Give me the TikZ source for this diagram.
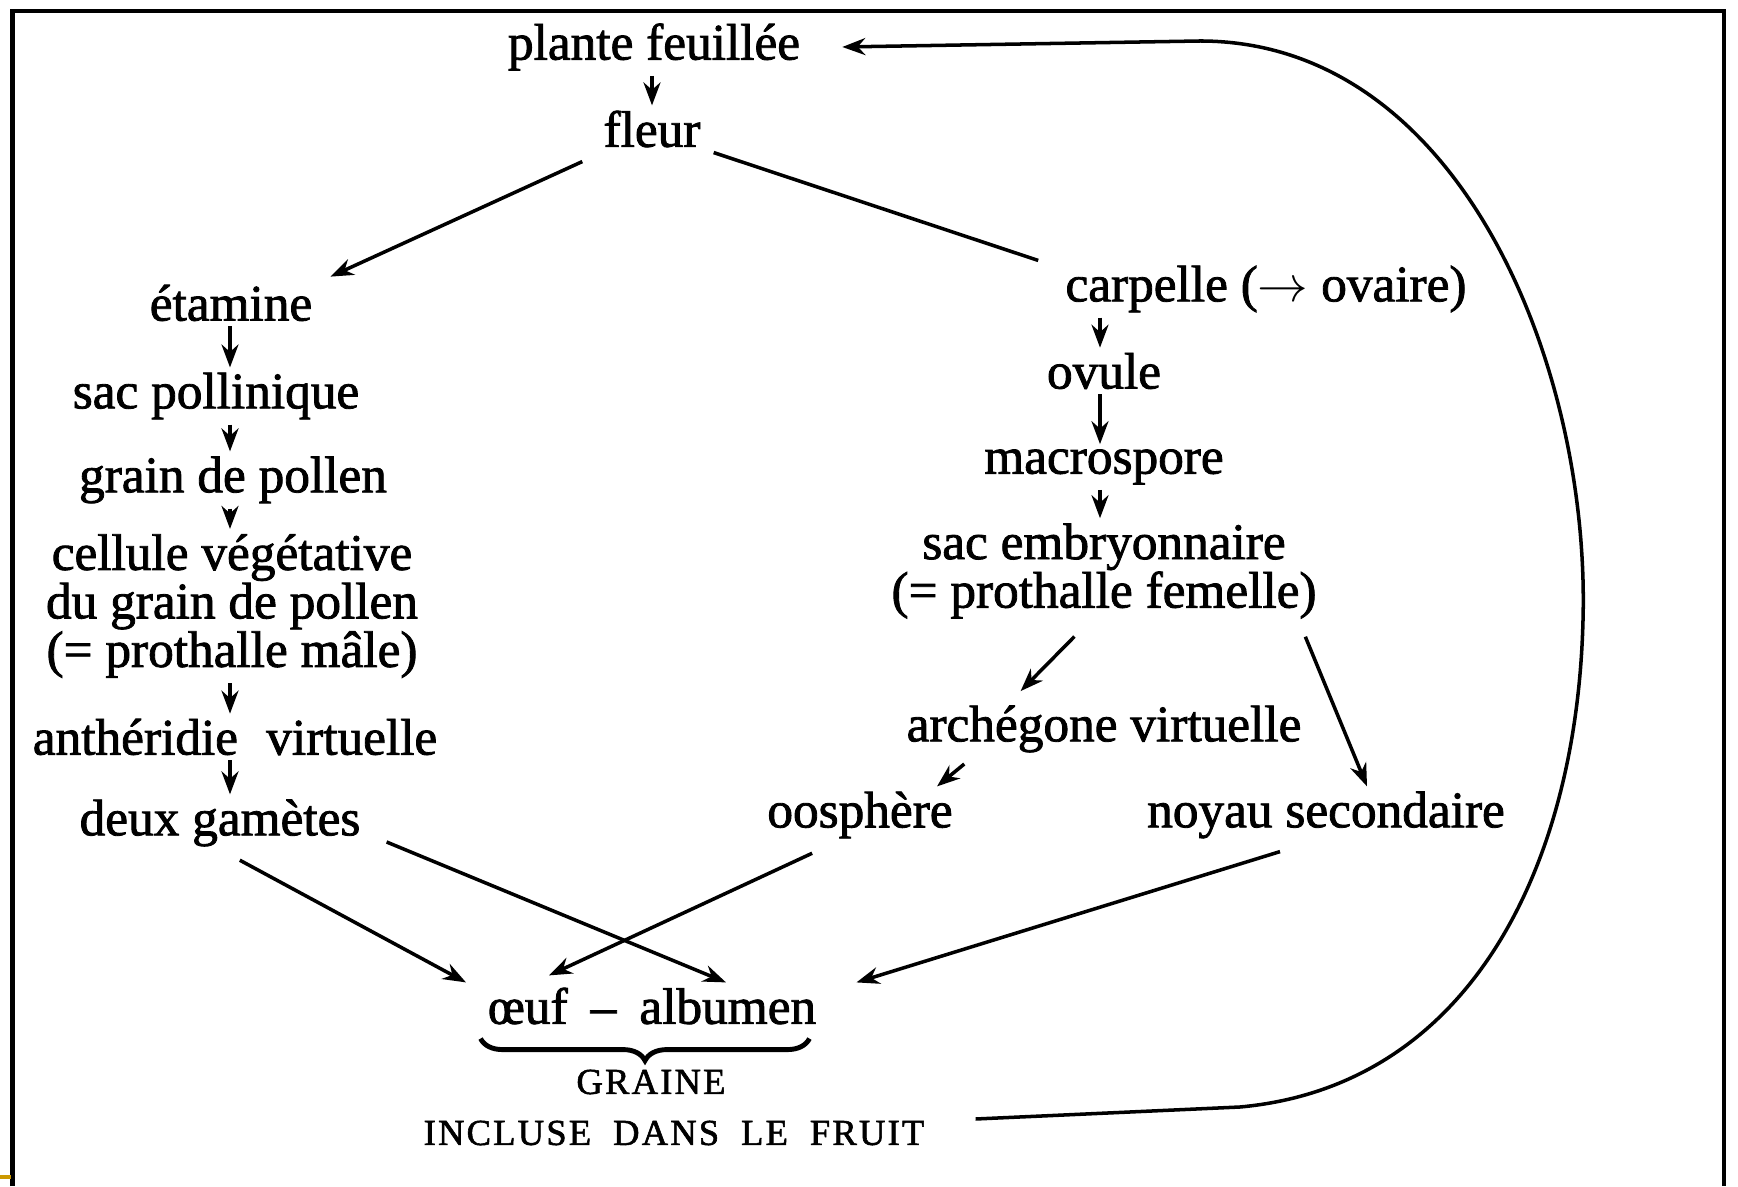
\documentclass[tikz,border=0pt]{standalone}
\usepackage{fontspec}
\setmainfont{Liberation Serif}
\newfontfamily\scanfont{Liberation Serif}[FakeBold=1.6]
\newcommand\scantext{\scanfont\fontsize{14.6}{13.8}\selectfont\lineskiplimit=-20pt\relax}
\newcommand\scancaps{\scanfont\fontsize{10.4}{12}\selectfont\addfontfeatures{LetterSpace=6}}
\usetikzlibrary{arrows.meta,decorations.pathreplacing}
\definecolor{scanyellow}{RGB}{204,153,0}

\begin{document}
\begin{tikzpicture}[>={Stealth[length=2.3mm,width=1.7mm]}, line width=1pt,
  every node/.style={inner sep=1pt, align=center, font=\scantext},
  caps/.style={font=\scancaps}]
\useasboundingbox (0,0) rectangle (17.38,11.86);
% frame of the scan
\draw[line width=1.2pt] (0.125,0) -- (0.125,11.75) -- (17.24,11.75) -- (17.24,0);
\draw[scanyellow, line width=1pt] (0,0.09) -- (0.11,0.09);

\coordinate (colL) at (2.30,0);
\coordinate (colR) at (11.00,0);

\node (plante) at (6.54,11.39) {plante feuillée};
\node (fleur) at (6.52,10.57) {fleur};
% male side
\node (etamine) at (2.31,8.83) {étamine};
\node (sacpoll) at (2.16,7.90) {sac pollinique};
\node (grain) at (2.33,7.06) {grain de pollen};
\node (cellule) at (2.32,5.80) {cellule végétative\\du grain de pollen\\(= prothalle mâle)};
\node (antheridie) at (2.35,4.49) {anthéridie\hspace{0.3em} virtuelle};
\node (gametes) at (2.20,3.63) {deux gamètes};
% female side
\node (carpelle) at (12.66,8.97) {carpelle ($\rightarrow$ ovaire)};
\node (ovule) at (11.04,8.15) {ovule};
\node (macrospore) at (11.04,7.19) {macrospore};
\node (sacemb) at (11.04,6.15) {sac embryonnaire\\(= prothalle femelle)};
\node (archegone) at (11.04,4.57) {archégone virtuelle};
\node (oosphere) at (8.60,3.71) {oosphère};
\node (noyau) at (13.26,3.71) {noyau secondaire};
% seed
\node (oeuf) at (6.52,1.80) {œuf\hspace{0.2em} – \hspace{0.2em}albumen};
\node[caps] (graine) at (6.51,1.04) {GRAINE};
\node[caps] (incluse) at (6.74,0.53) {INCLUSE\hspace{0.6em}DANS\hspace{0.6em}LE\hspace{0.6em}FRUIT};

\draw[->] (plante.south -| fleur) -- (fleur.north);
\draw[->] ([shift={(-1.6mm,-0.9mm)}]fleur.south west) -- ([shift={(1.3mm,0.3mm)}]etamine.north east);
\draw ([xshift=0.8mm]fleur.south east) -- ([xshift=-2.2mm]carpelle.north west);

\draw[->] (etamine.south -| colL) -- (sacpoll.north -| colL);
\draw[->] (sacpoll.south -| colL) -- (grain.north -| colL);
\draw[->] (grain.south -| colL) -- (cellule.north -| colL);
\draw[->] (cellule.south -| colL) -- (antheridie.north -| colL);
\draw[->] (antheridie.south -| colL) -- (gametes.north -| colL);

\draw[->] (carpelle.south -| colR) -- (ovule.north -| colR);
\draw[->] (ovule.south -| colR) -- (macrospore.north -| colR);
\draw[->] (macrospore.south -| colR) -- (sacemb.north -| colR);
\draw[->, shorten <=1.8mm, shorten >=1.3mm] ([xshift=-1.7mm]sacemb.south) -- ([xshift=-9.25mm]archegone.north);
\draw[->, shorten <=1.4mm] ([xshift=19.6mm]sacemb.south) -- ([xshift=4.1mm]noyau.north);
\draw[->, shorten <=1mm] ([xshift=-13.2mm]archegone.south) -- ([xshift=7.7mm]oosphere.north);

\draw[->, shorten <=1.8mm] ([xshift=0.4mm]gametes.south) -- ([xshift=-18.6mm]oeuf.north);
\draw[->] ([shift={(2.1mm,-1.9mm)}]gametes.east) -- ([xshift=7.4mm]oeuf.north);
\draw[->, shorten <=2.3mm] ([xshift=-2.7mm]oosphere.south) -- ([shift={(-10.3mm,0.7mm)}]oeuf.north);
\draw[->] ([shift={(-4.6mm,-0.8mm)}]noyau.south) -- ([xshift=3.5mm]oeuf.north east);

\draw[decorate, decoration={brace, mirror, amplitude=2.2mm}, line width=1.4pt]
  ([shift={(-0.2mm,-0.9mm)}]oeuf.south west) -- ([shift={(-1.2mm,-0.9mm)}]oeuf.south east);

% back to the plant
\draw[<-] ([xshift=3.7mm]plante.east) -- (12.0,11.45)
  .. controls (14.6,11.45) and (15.9,8.2) .. (15.83,5.66)
  .. controls (15.77,3.2) and (14.7,1.0) .. (12.4,0.79)
  -- ([shift={(4.6mm,1.4mm)}]incluse.east);
\end{tikzpicture}
\end{document}
